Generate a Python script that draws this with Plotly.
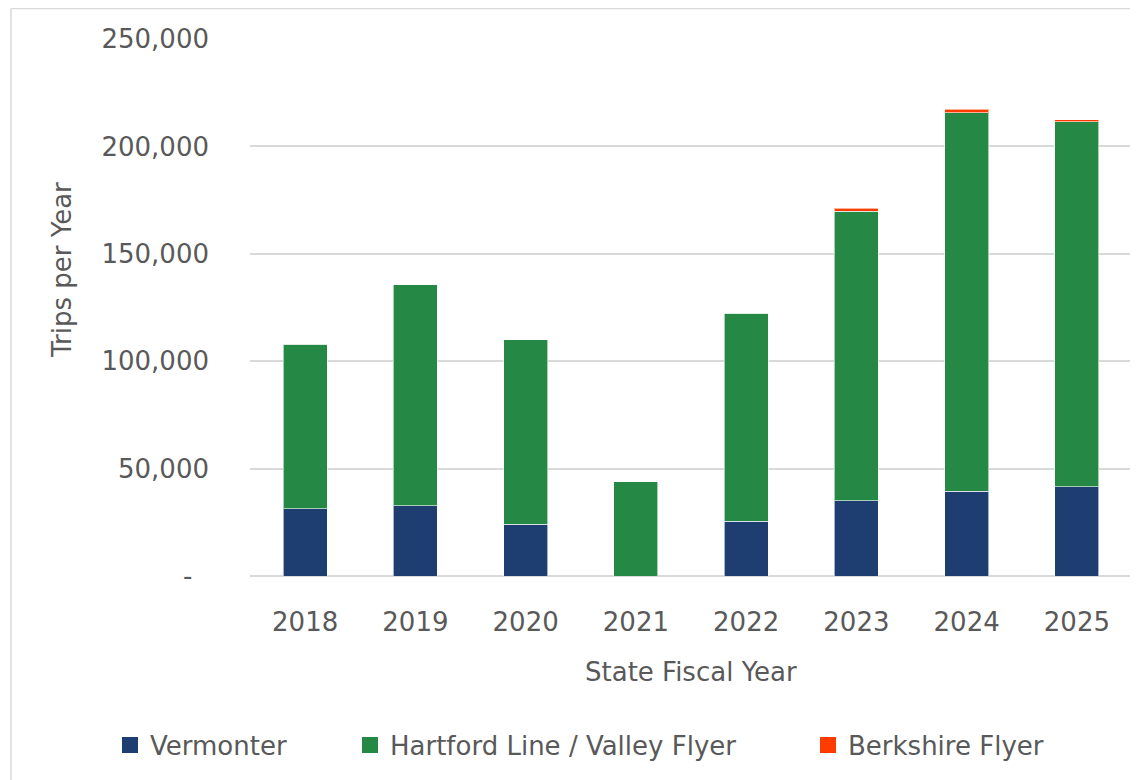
import plotly.graph_objects as go

years = ["2018", "2019", "2020", "2021", "2022", "2023", "2024", "2025"]
vermonter = [31200, 32600, 24200, 0, 25600, 35000, 39400, 41600]
hartford = [76800, 102900, 85700, 43800, 96800, 134900, 176300, 169800]
berkshire = [0, 0, 0, 0, 0, 1400, 1600, 900]

series_names = ["Vermonter", "Hartford Line / Valley Flyer", "Berkshire Flyer"]
series_colors = ["#1e3d70", "#258945", "#ff3c00"]

tick_vals = [0, 50000, 100000, 150000, 200000, 250000]
tick_text = ["-\u00a0\u00a0", "50,000", "100,000", "150,000", "200,000", "250,000"]

FONT = "DejaVu Sans"
GREY = "#595959"
FS = 26

# page has an 8px body margin; positions below are in figure coordinates
L, R, T, B = 242, 1124, 31, 568
W, H = R - L, B - T
FW, FH = 1138, 780

def px(x):
    return (x - L) / W

def py(y):
    return (B - y) / H

fig = go.Figure()
for name, vals, col in zip(series_names, [vermonter, hartford, berkshire], series_colors):
    fig.add_trace(go.Bar(x=years, y=vals, name=name, showlegend=False,
                         marker=dict(color=col, line=dict(color="rgba(255,255,255,0.6)", width=1))))

legend_names = ["legend", "legend2", "legend3"]
legend_text_x = [142, 382, 840]  # text start, figure px
for name, col, lg in zip(series_names, series_colors, legend_names):
    fig.add_trace(go.Scatter(x=[None], y=[None], mode="markers", name=name, legend=lg,
                             marker=dict(symbol="square", size=18, color=col)))

legend_common = dict(orientation="h", xref="container", yref="container",
                     y=(FH - 737) / FH, yanchor="middle", xanchor="left",
                     font=dict(size=FS, color=GREY, family=FONT), itemwidth=30,
                     bgcolor="rgba(0,0,0,0)")
legends = {}
for lg, tx in zip(legend_names, legend_text_x):
    legends[lg] = dict(legend_common, x=(tx - 40) / FW)

fig.update_layout(
    width=FW, height=FH,
    margin=dict(l=L, r=FW - R, t=T, b=FH - B),
    barmode="stack", bargap=0.6,
    plot_bgcolor="white", paper_bgcolor="white",
    font=dict(family=FONT, color=GREY, size=FS),
    showlegend=True,
    xaxis=dict(showgrid=False, ticks="", tickfont=dict(size=FS, color=GREY),
               ticklabelstandoff=28, showline=False),
    yaxis=dict(range=[0, 250000], tickvals=tick_vals, ticktext=tick_text,
               gridcolor="#d9d9d9", gridwidth=1.5, zeroline=True, zerolinecolor="#d9d9d9",
               zerolinewidth=1.5, tickfont=dict(size=FS, color=GREY), ticklabelstandoff=40,
               showline=False),
    annotations=[
        dict(text="Trips per Year", textangle=-90, xref="paper", yref="paper",
             x=px(54), y=py(262), showarrow=False, xanchor="center", yanchor="middle",
             font=dict(size=FS, color=GREY)),
        dict(text="State Fiscal Year", xref="paper", yref="paper",
             x=0.5, y=py(664), showarrow=False, xanchor="center", yanchor="middle",
             font=dict(size=FS, color=GREY)),
    ],
    shapes=[
        dict(type="line", xref="paper", yref="paper", x0=px(3), x1=px(1145), y0=py(0.5), y1=py(0.5),
             line=dict(color="#d9d9d9", width=1.5)),
        dict(type="line", xref="paper", yref="paper", x0=px(3), x1=px(3), y0=py(0.5), y1=py(790),
             line=dict(color="#d9d9d9", width=1.5)),
    ],
    **legends,
)

fig.write_html("out.html")
